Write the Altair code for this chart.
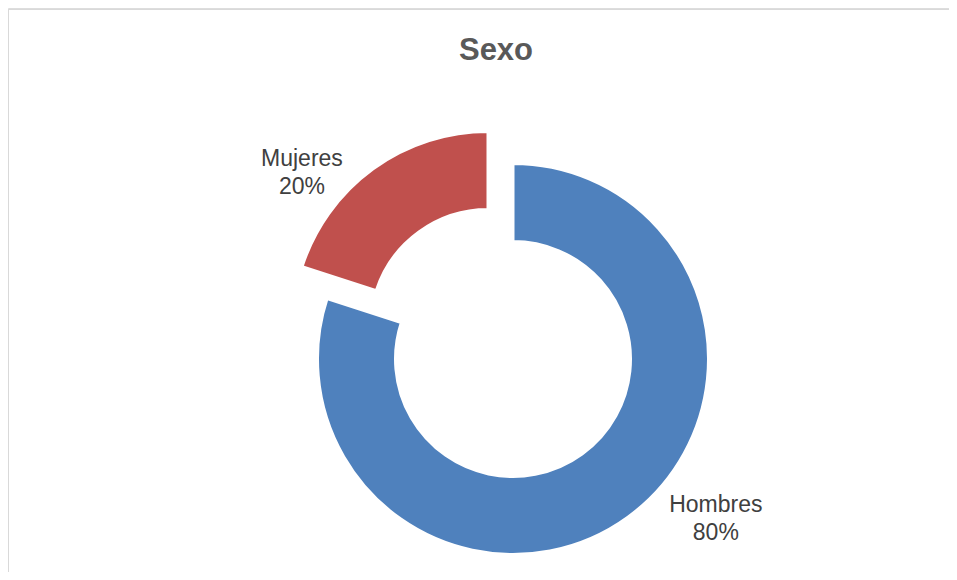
import altair as alt
import pandas as pd

# ---- data ----
categorias = ["Hombres", "Mujeres"]
valores = [80, 20]
colores = ["#4F81BD", "#C0504D"]
titulo = "Sexo"

W, H = 941, 564

df = pd.DataFrame({"categoria": categorias, "valor": valores})

base = alt.Chart(df).transform_calculate(
    etiqueta="datum.categoria + '\\n' + datum.valor + '%'"
)

theta = alt.Theta("valor:Q", stack=True)
color = alt.Color("categoria:N", scale=alt.Scale(domain=categorias, range=colores), legend=None)
order = alt.Order("categoria:N", sort="ascending")

def only(cat):
    return alt.when(alt.datum.categoria == cat).then(alt.value(1)).otherwise(alt.value(0))

# centre of the donut and exploded slice (plot-area pixels)
CX, CY = 505, 351
EX, EY = 480, 319
R_OUT, R_IN = 195.5, 117.5

arc_h = base.mark_arc(outerRadius=R_OUT, innerRadius=R_IN, stroke="white", strokeWidth=3).encode(
    theta=theta, color=color, order=order, opacity=only("Hombres"),
    x=alt.value(CX), y=alt.value(CY),
)
arc_m = base.mark_arc(outerRadius=R_OUT, innerRadius=R_IN, stroke="white", strokeWidth=3).encode(
    theta=theta, color=color, order=order, opacity=only("Mujeres"),
    x=alt.value(EX), y=alt.value(EY),
)

txt_kw = dict(font="Liberation Sans", fontSize=23, color="#404040", lineBreak="\n",
              lineHeight=28, align="center", baseline="alphabetic")

txt_h = base.mark_text(dx=60, dy=-44, **txt_kw).encode(
    theta=theta, order=order, text="etiqueta:N", opacity=only("Hombres"),
    radius=alt.value(243), x=alt.value(CX), y=alt.value(CY),
)
txt_m = base.mark_text(dx=-45, dy=33, **txt_kw).encode(
    theta=theta, order=order, text="etiqueta:N", opacity=only("Mujeres"),
    radius=alt.value(240), x=alt.value(EX), y=alt.value(EY),
)

title = alt.Chart(pd.DataFrame({"t": [titulo]})).mark_text(
    font="Liberation Sans", fontSize=31, fontWeight="bold", color="#595959",
    align="center", baseline="alphabetic",
).encode(text="t:N", x=alt.value(488), y=alt.value(52))

one = pd.DataFrame({"k": [0]})
border_top = alt.Chart(one).mark_rule(color="#D9D9D9", strokeWidth=1).encode(
    x=alt.value(0), x2=alt.value(W), y=alt.value(1.5)
)
border_left = alt.Chart(one).mark_rule(color="#D9D9D9", strokeWidth=1).encode(
    x=alt.value(0.5), y=alt.value(1), y2=alt.value(H)
)

chart = alt.layer(border_top, border_left, arc_h, arc_m, txt_h, txt_m, title).properties(
    width=W, height=H, padding=0, autosize=alt.AutoSizeParams(type="none")
).configure_view(strokeWidth=0).configure(background="white")

chart.save("out.html", embed_options={"renderer": "svg", "actions": False})
